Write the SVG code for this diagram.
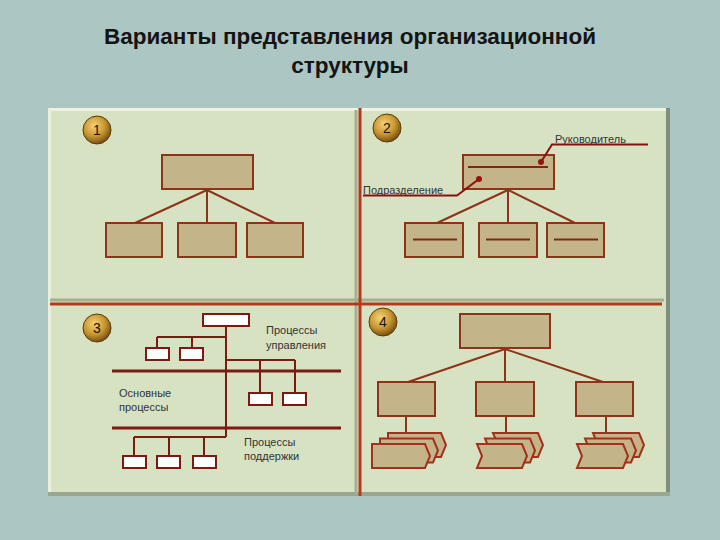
<svg xmlns="http://www.w3.org/2000/svg" width="720" height="540" viewBox="0 0 720 540">
<defs>
<radialGradient id="gold" cx="0.4" cy="0.35" r="0.7">
<stop offset="0" stop-color="#f4d27a"/>
<stop offset="0.55" stop-color="#c8962e"/>
<stop offset="1" stop-color="#6a4510"/>
</radialGradient>
<style>
.title{font-family:"Liberation Sans",Arial,sans-serif;font-weight:bold;font-size:22.5px;fill:#141414;text-anchor:middle}
.num{font-family:"Liberation Sans",Arial,sans-serif;font-size:14px;fill:#1a1208;text-anchor:middle}
.lbl{font-family:"Liberation Sans",Arial,sans-serif;font-size:11px;fill:#333}
.box{fill:#c4b48a;stroke:#8c3318;stroke-width:2}
.wbox{fill:#ffffff;stroke:#7a1a10;stroke-width:2}
.ln{stroke:#8c3318;stroke-width:2;fill:none}
.ln3{stroke:#7a1a10;stroke-width:2;fill:none}
.bus{stroke:#7a1a10;stroke-width:3;fill:none}
.inner{stroke:#7a2a14;stroke-width:2}
.lead{stroke:#8a1010;stroke-width:2;fill:none}
.dot{fill:#9a1010}
.stk{fill:#c4b48a;stroke:#a3301a;stroke-width:2;stroke-linejoin:miter}
.div{stroke:#b33a1c;stroke-width:3}
.sh{stroke:#a9ad92;stroke-width:3}
</style>
</defs>
<rect width="720" height="540" fill="#abc6c3"/>
<text class="title" x="350" y="44">Варианты представления организационной</text>
<text class="title" x="350" y="73">структуры</text>
<g id="panel">
<rect x="48" y="108" width="622" height="388" fill="#d7e2c3"/>
<rect x="48" y="108" width="622" height="3" fill="#eef2e2"/>
<rect x="48" y="108" width="3" height="388" fill="#eaf0dc"/>
<rect x="666" y="108" width="4" height="388" fill="#7f8e7b"/>
<rect x="48" y="492" width="622" height="4" fill="#9aa68f"/>
<line class="sh" x1="356" y1="110" x2="356" y2="494"/>
<line class="sh" x1="50" y1="300" x2="664" y2="300"/>
<line class="div" x1="360" y1="108" x2="360" y2="496"/>
<line class="div" x1="50" y1="304" x2="662" y2="304"/>
</g>
<g id="badges">
<g id="badge1"><circle cx="97" cy="130" r="14" fill="url(#gold)" stroke="#5a3a0c" stroke-width="1"/><text class="num" x="97" y="135">1</text></g>
<g id="badge2"><circle cx="387" cy="128" r="14" fill="url(#gold)" stroke="#5a3a0c" stroke-width="1"/><text class="num" x="387" y="133">2</text></g>
<g id="badge3"><circle cx="97" cy="328" r="14" fill="url(#gold)" stroke="#5a3a0c" stroke-width="1"/><text class="num" x="97" y="333">3</text></g>
<g id="badge4"><circle cx="383" cy="322" r="14" fill="url(#gold)" stroke="#5a3a0c" stroke-width="1"/><text class="num" x="383" y="327">4</text></g>
</g>
<g id="v1">
<rect id="v1-top" class="box" x="162" y="155" width="91" height="34"/>
<rect id="v1-a" class="box" x="106" y="223" width="56" height="34"/>
<rect id="v1-b" class="box" x="178" y="223" width="58" height="34"/>
<rect id="v1-c" class="box" x="247" y="223" width="56" height="34"/>
</g>
<g id="v2">
<g id="v2-top"><rect class="box" x="463" y="155" width="91" height="34"/><line class="inner" x1="468" y1="167" x2="548" y2="167"/></g>
<g id="v2-a"><rect class="box" x="405" y="223" width="58" height="34"/><line class="inner" x1="413" y1="239.5" x2="457" y2="239.5"/></g>
<g id="v2-b"><rect class="box" x="479" y="223" width="58" height="34"/><line class="inner" x1="486" y1="239.5" x2="530" y2="239.5"/></g>
<g id="v2-c"><rect class="box" x="547" y="223" width="57" height="34"/><line class="inner" x1="554" y1="239.5" x2="598" y2="239.5"/></g>
<text class="lbl" x="555" y="142.5">Руководитель</text>
<text class="lbl" x="363" y="194">Подразделение</text>
</g>
<g id="v3">
<rect id="v3-top" class="wbox" x="203" y="314" width="46" height="12"/>
<rect class="wbox" x="146" y="348" width="23" height="12"/>
<rect class="wbox" x="180" y="348" width="23" height="12"/>
<rect class="wbox" x="249" y="393" width="23" height="12"/>
<rect class="wbox" x="283" y="393" width="23" height="12"/>
<rect class="wbox" x="123" y="456" width="23" height="12"/>
<rect class="wbox" x="157" y="456" width="23" height="12"/>
<rect class="wbox" x="193" y="456" width="23" height="12"/>
<text class="lbl" x="266" y="334">Процессы</text>
<text class="lbl" x="266" y="349">управления</text>
<text class="lbl" x="119" y="397">Основные</text>
<text class="lbl" x="119" y="411">процессы</text>
<text class="lbl" x="244" y="446">Процессы</text>
<text class="lbl" x="244" y="460">поддержки</text>
</g>
<g id="v4">
<rect id="v4-top" class="box" x="460" y="314" width="90" height="34"/>
<rect id="v4-a" class="box" x="378" y="382" width="57" height="34"/>
<rect id="v4-b" class="box" x="476" y="382" width="58" height="34"/>
<rect id="v4-c" class="box" x="576" y="382" width="57" height="34"/>
<g id="v4-stack1">
<path class="stk" transform="translate(388,433)" d="M0 0 H53 L58 12 L53 24 H0 Z"/>
<path class="stk" transform="translate(380,438.5)" d="M0 0 H53 L58 12 L53 24 H0 Z"/>
<path class="stk" transform="translate(372,444)" d="M0 0 H53 L58 12 L53 24 H0 Z"/>
</g>
<g id="v4-stack2">
<path class="stk" transform="translate(493,433)" d="M0 0 H45 L50 12 L45 24 H0 L5 12 Z"/>
<path class="stk" transform="translate(485,438.5)" d="M0 0 H45 L50 12 L45 24 H0 L5 12 Z"/>
<path class="stk" transform="translate(477,444)" d="M0 0 H45 L50 12 L45 24 H0 L5 12 Z"/>
</g>
<g id="v4-stack3">
<path class="stk" transform="translate(593,433)" d="M0 0 H46 L51 12 L46 24 H0 L5 12 Z"/>
<path class="stk" transform="translate(585,438.5)" d="M0 0 H46 L51 12 L46 24 H0 L5 12 Z"/>
<path class="stk" transform="translate(577,444)" d="M0 0 H46 L51 12 L46 24 H0 L5 12 Z"/>
</g>
</g>
<g id="connectors">
<path class="ln" d="M207 190 L135 223 M207 190 L207 223 M207 190 L275 223"/>
<path class="ln" d="M508 190 L437 223 M508 190 L508 223 M508 190 L575 223"/>
<path class="ln" d="M505 349 L408 382 M505 349 L505 382 M505 349 L603 382"/>
<path class="ln" d="M406 417 V433 M506 417 V433 M606 417 V433"/>
<path class="ln3" d="M226 327 V437 M157 337 H226 M157 337 V347 M192 337 V347 M226 360 H295 M260 360 V392 M295 360 V392 M134 437 H226 M134 437 V455 M169 437 V455 M204 437 V455"/>
<path class="bus" d="M112 371 H341 M112 428 H341"/>
<path class="lead" d="M363 195.5 H457 L479 179 M541 162 L552 144.5 H648"/>
<circle class="dot" cx="479" cy="179" r="3"/>
<circle class="dot" cx="541" cy="162" r="3"/>
</g>
</svg>
